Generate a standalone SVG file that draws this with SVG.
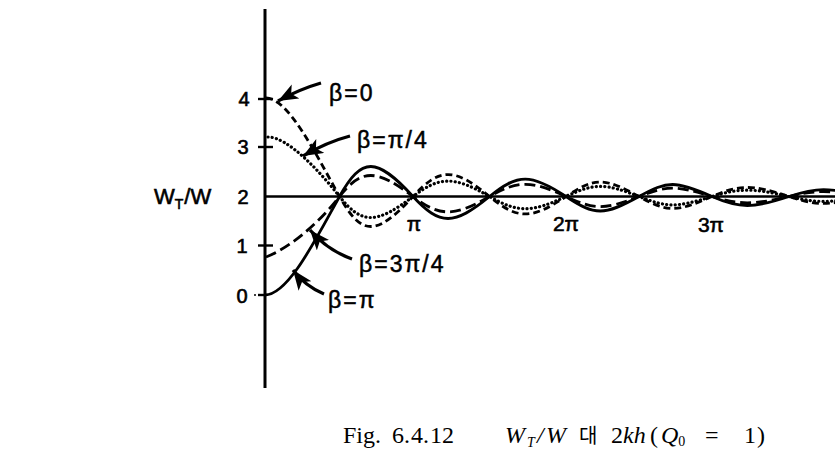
<svg xmlns="http://www.w3.org/2000/svg" width="835" height="460" viewBox="0 0 835 460">
<style>
.ax{stroke:#000;stroke-width:3;fill:none}
.tk{stroke:#000;stroke-width:2.4;fill:none}
.c{fill:none;stroke:#000;stroke-width:2.8}
.dash{stroke-dasharray:7 4}
.ldash{stroke-dasharray:11 5}
.dot{stroke-dasharray:0.1 4.2;stroke-linecap:round;stroke-width:3.2}
.num{font-family:"Liberation Sans",Arial,sans-serif;font-size:20px;fill:#000;stroke:#000;stroke-width:0.6}
.beta{font-family:"Liberation Sans",Arial,sans-serif;font-size:23px;fill:#000;letter-spacing:2px;stroke:#000;stroke-width:0.5}
.cap{font-family:"Liberation Serif","Times New Roman",serif;font-size:24px;fill:#000}
.it{font-style:italic}
.ar{fill:none;stroke:#000;stroke-width:3.2}
</style>
<defs>
<marker id="ah" markerUnits="userSpaceOnUse" markerWidth="24" markerHeight="18" refX="20" refY="8" orient="auto">
<path d="M0,0 L20,8 L0,16 L5,8 z" fill="#000"/>
</marker>
</defs>
<rect width="835" height="460" fill="#fff"/>

<g id="axes">
<line class="ax" x1="265" y1="9" x2="265" y2="388"/>
<line class="ax" x1="265" y1="196.5" x2="835" y2="196.5" style="stroke-width:2.6"/>
<line class="tk" x1="258" y1="99" x2="273" y2="99"/>
<line class="tk" x1="258" y1="147" x2="273" y2="147"/>
<line class="tk" x1="258" y1="245.5" x2="273" y2="245.5"/>
<line class="tk" x1="258" y1="295" x2="266" y2="295"/>
<circle cx="255" cy="295" r="1" fill="#000"/>
</g>

<g id="axis-labels">
<text class="num" x="244" y="106" text-anchor="middle">4</text>
<text class="num" x="243" y="154" text-anchor="middle">3</text>
<text class="num" x="243" y="203.5" text-anchor="middle">2</text>
<text class="num" x="242" y="253" text-anchor="middle">1</text>
<text class="num" x="242" y="303" text-anchor="middle">0</text>
<text class="num" x="154" y="203.5" style="font-size:22px">W<tspan style="font-size:14px" dy="5">T</tspan><tspan dy="-5" dx="1">/W</tspan></text>
<text class="num" x="414" y="231" text-anchor="middle" style="font-size:21px">π</text>
<text class="num" x="566" y="231" text-anchor="middle" style="font-size:21px">2π</text>
<text class="num" x="711" y="232" text-anchor="middle" style="font-size:21px">3π</text>
</g>

<g id="curves">
<path id="beta-pi" class="c" d="M265,295 C288,295 315,240.6 339.5,196.5 C361.7,156.5 376.3,156.5 413,196.5 C439.9,225.8 454,225.8 489.5,196.5 C517.7,173.2 531.2,173.2 566,196.5 C594.9,215.8 604.2,215.8 639,196.5 C667.8,180.5 675.6,180.5 712,196.5 C739.3,208.5 753.2,208.5 789,196.5 C816.9,187.2 827.8,187.2 865,196.5"/>
<path id="beta-0" class="c dash" d="M266,98 C288,98 315,152.4 339.5,196.5 C361.7,236.5 376.3,236.5 413,196.5 C439.9,167.2 454,167.2 489.5,196.5 C517.7,219.8 531.2,219.8 566,196.5 C594.9,177.2 604.2,177.2 639,196.5 C667.8,212.5 675.6,212.5 712,196.5 C739.3,184.5 753.2,184.5 789,196.5 C816.9,205.8 827.8,205.8 865,196.5"/>
<path id="beta-pi4" class="c dot" d="M268,137 C287,137 317.5,168.5 339.5,196.5 C361.7,224.5 376.3,224.5 413,196.5 C439.9,176 454,176 489.5,196.5 C517.7,212.8 531.2,212.8 566,196.5 C594.9,183 604.2,183 639,196.5 C667.8,207.7 675.6,207.7 712,196.5 C739.3,188.1 753.2,188.1 789,196.5 C816.9,203 827.8,203 865,196.5"/>
<path id="beta-3pi4" class="c ldash" d="M266,257 C285,250 315,228 339.5,196.5 C361.7,168.5 376.3,168.5 413,196.5 C439.9,217 454,217 489.5,196.5 C517.7,180.2 531.2,180.2 566,196.5 C594.9,210 604.2,210 639,196.5 C667.8,185.3 675.6,185.3 712,196.5 C739.3,204.9 753.2,204.9 789,196.5 C816.9,190 827.8,190 865,196.5"/>
</g>

<g id="connectors">
<path class="ar" d="M321,83 Q300,89 278,101" marker-end="url(#ah)"/>
<path class="ar" d="M350,136 Q327,142 303,156" marker-end="url(#ah)"/>
<path class="ar" d="M352,259 Q327,250 310,230" marker-end="url(#ah)"/>
<path class="ar" d="M324,294 Q305,286 293,270" marker-end="url(#ah)"/>
</g>

<g id="label-beta0"><text class="beta" x="329" y="101">β=0</text></g>
<g id="label-betapi4"><text class="beta" x="357" y="148">β=π/4</text></g>
<g id="label-beta3pi4"><text class="beta" x="359" y="272">β=3π/4</text></g>
<g id="label-betapi"><text class="beta" x="328" y="308">β=π</text></g>

<g id="caption">
<text class="cap" y="443"><tspan x="343">Fig.</tspan><tspan x="392">6.</tspan><tspan x="411">4.</tspan><tspan x="430">12</tspan><tspan x="505" class="it">W</tspan><tspan class="it" style="font-size:14px" x="527" dy="4">T</tspan><tspan class="it" x="537" dy="-4">/</tspan><tspan class="it" x="546">W</tspan><tspan x="579" style="font-family:'Noto Sans CJK KR',sans-serif;font-size:20px">대</tspan><tspan x="611">2</tspan><tspan class="it">kh</tspan><tspan x="650">(</tspan><tspan class="it" x="661">Q</tspan><tspan style="font-size:14px" dy="3">0</tspan><tspan x="705" dy="-3">=</tspan><tspan x="744">1</tspan><tspan x="757">)</tspan></text>
</g>
</svg>
